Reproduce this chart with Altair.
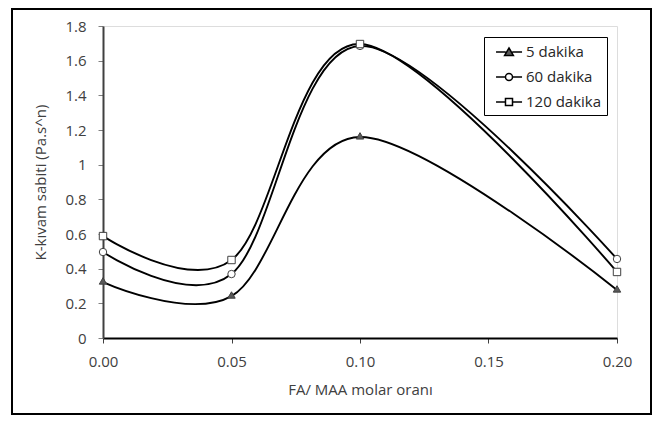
import altair as alt
import pandas as pd

# ---- data ----
x_vals = [0.00, 0.05, 0.10, 0.20]
series_names = ["5 dakika", "60 dakika", "120 dakika"]
k_5 = [0.323, 0.242, 1.160, 0.277]
k_60 = [0.496, 0.369, 1.685, 0.456]
k_120 = [0.588, 0.450, 1.696, 0.381]
x_ticks = [0.00, 0.05, 0.10, 0.15, 0.20]
y_ticks = [0, 0.2, 0.4, 0.6, 0.8, 1.0, 1.2, 1.4, 1.6, 1.8]

rows = []
for name, vals in zip(series_names, [k_5, k_60, k_120]):
    for x, v in zip(x_vals, vals):
        rows.append({"x": x, "k": v, "seri": name})
df = pd.DataFrame(rows)

FONT = "Open Sans"
TXT = "#404040"

x_enc = alt.X(
    "x:Q",
    scale=alt.Scale(domain=[0, 0.2], nice=False, zero=False),
    axis=alt.Axis(
        values=x_ticks, format=".2f", title="FA/ MAA molar oranı",
        grid=False, tickSize=5, labelPadding=11, titlePadding=13,
        labelFontSize=15, titleFontSize=15, labelColor=TXT, titleColor=TXT,
        labelFont=FONT, titleFont=FONT, domainColor="#000", domainWidth=2,
        tickColor="#404040", labelFlush=False, titleFontWeight="normal",
    ),
)
y_enc = alt.Y(
    "k:Q",
    scale=alt.Scale(domain=[0, 1.8], nice=False),
    axis=alt.Axis(
        values=y_ticks, format=".1~f", title="K-kıvam sabiti (Pa.s^n)",
        grid=False, tickSize=5, labelPadding=12, titlePadding=16,
        labelFontSize=15, titleFontSize=15, labelColor=TXT, titleColor=TXT,
        labelFont=FONT, titleFont=FONT, domainColor="#404040", domainWidth=2,
        tickColor="#808080", titleFontWeight="normal",
    ),
)

base = alt.Chart(df)

lines = base.mark_line(interpolate="cardinal", color="black", strokeWidth=1.9).encode(
    x=x_enc, y=y_enc, detail="seri:N"
)

points = base.mark_point(filled=True, size=55, stroke="#404040", strokeWidth=1, opacity=1).encode(
    x=x_enc, y=y_enc,
    shape=alt.Shape("seri:N", scale=alt.Scale(domain=series_names, range=["triangle", "circle", "square"]), legend=None),
    fill=alt.Fill("seri:N", scale=alt.Scale(domain=series_names, range=["#595959", "white", "white"]), legend=None),
)

# legend glyphs: a line with the marker on it (unit = 9 px)
tri_path = "M-0.33,0L0.75,0M1.47,0L2.56,0M1.11,-0.45L1.6,0.4L0.62,0.4Z"
cir_path = "M-0.33,0L0.72,0M1.5,0L2.56,0M0.72,0A0.39,0.39 0 1,0 1.5,0A0.39,0.39 0 1,0 0.72,0Z"
sq_path = "M-0.33,0L0.72,0M1.5,0L2.56,0M0.72,-0.39H1.5V0.39H0.72Z"

legend_def = alt.Legend(
    title=None, orient="none", legendX=381, legendY=11,
    strokeColor="black", fillColor="white", padding=5, rowPadding=7,
    symbolSize=324, symbolStrokeWidth=1.5, symbolStrokeColor="black",
    labelOffset=17, labelFont=FONT, labelFontSize=15, labelColor="#262626",
)

legend_layer = base.transform_filter("false").mark_point(filled=False, size=324, strokeWidth=1.5, opacity=1).encode(
    x=x_enc, y=y_enc,
    shape=alt.Shape("seri:N", scale=alt.Scale(domain=series_names, range=[tri_path, cir_path, sq_path]), legend=legend_def),
    fill=alt.Fill("seri:N", scale=alt.Scale(domain=series_names, range=["#595959", "white", "white"]), legend=legend_def),
    stroke=alt.Stroke("seri:N", scale=alt.Scale(domain=series_names, range=["black", "black", "black"]), legend=legend_def),
)

frame = alt.Chart(pd.DataFrame({"a": [0]})).mark_rect(
    filled=False, stroke="black", strokeWidth=2, clip=False
).encode(
    x=alt.value(-91), x2=alt.value(548), y=alt.value(-17), y2=alt.value(388)
)

chart = alt.layer(frame, lines, points, legend_layer).resolve_scale(
    shape="independent", fill="independent", stroke="independent"
).properties(
    width=514, height=312,
    autosize=alt.AutoSizeParams(type="none"),
    padding={"left": 95, "top": 18, "right": 35, "bottom": 77},
).configure_view(stroke="black", strokeWidth=2).configure(background="white")

chart.save("out.html", embed_options={"renderer": "svg", "actions": False})
